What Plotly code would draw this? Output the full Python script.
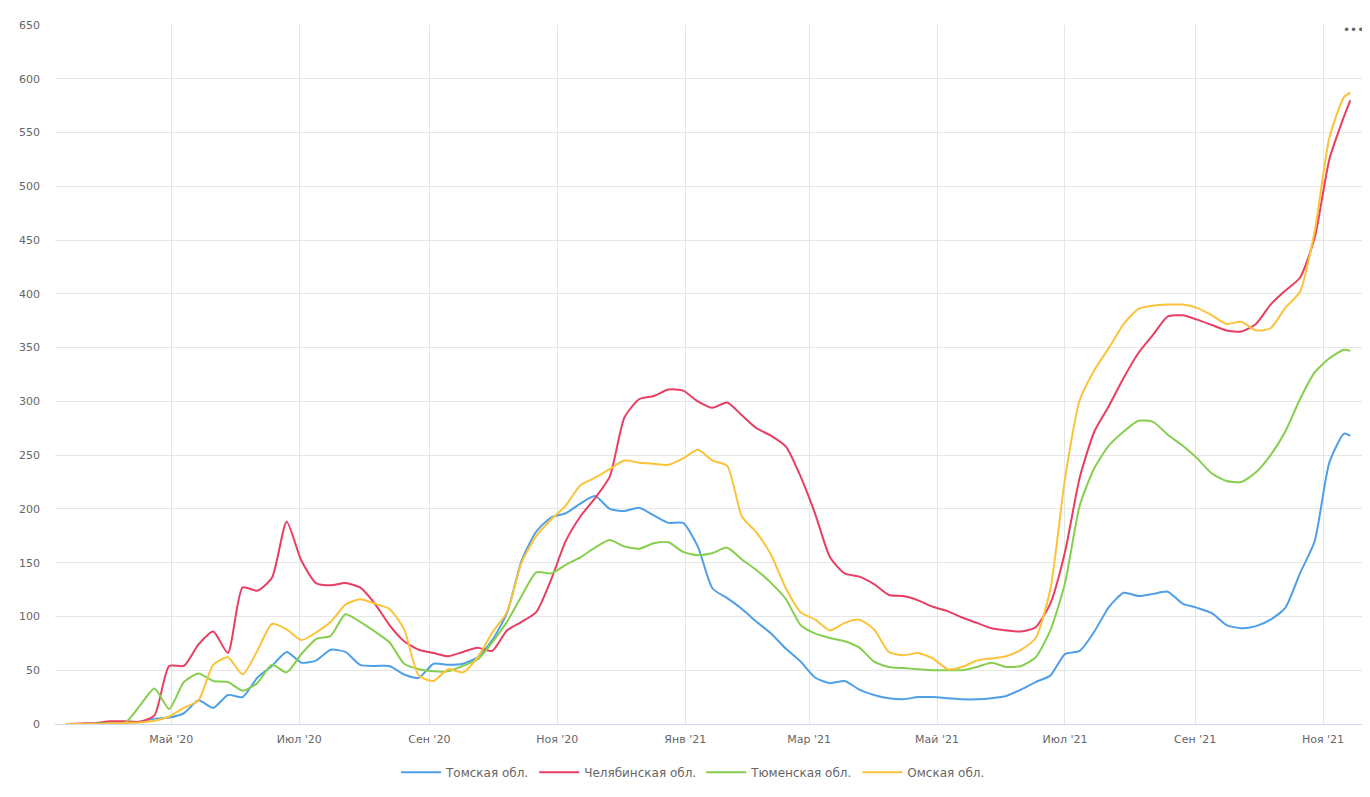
import pandas as pd
import plotly.graph_objects as go

# weekly dates from 2020-03-12, plus the last reported day
dates = list(pd.date_range("2020-03-12", "2021-11-11", freq="7D").strftime("%Y-%m-%d")) + ["2021-11-14"]

tomsk = [0, 0, 0, 0.5, 1, 2, 5, 6, 10, 22, 15, 27, 25, 43, 54, 67, 57, 59, 69, 67, 55, 54, 54, 46, 43, 56,
         55, 56, 62, 78, 103, 152, 179, 192, 196, 205, 212, 200, 198, 201, 194, 187, 187, 165, 126, 117, 107,
         95, 84, 70, 58, 43, 38, 40, 32, 27, 24,
         23, 25, 25, 24, 23, 23, 24, 26, 32, 39, 45, 65, 68, 86, 109, 122, 119, 121, 123, 112, 108, 103, 92,
         89, 91, 97, 108, 140, 170, 243, 270, 268]

chelyabinsk = [0, 0.5, 1, 2.5, 2.5, 2, 8, 54, 54, 74, 86, 66, 127, 124, 136, 188, 152, 131, 129, 131, 127,
               112, 92, 77, 69, 66, 63, 67, 71, 68, 87, 95, 104, 134, 170, 193, 210, 230, 285, 302, 305, 311,
               310, 300, 294, 299, 287, 275, 268, 258, 230, 195, 155, 140, 137, 130, 120,
               119, 115, 109, 105, 99, 94, 89, 87, 86, 90, 112, 160, 229, 272, 296, 322, 345, 362, 379, 380,
               376, 371, 366, 365, 372, 390, 403, 415, 452, 525, 565, 580]

tyumen = [0, 0, 0.5, 0.5, 1, 17, 33, 14, 39, 47, 40, 39, 31, 38, 55, 48, 65, 79, 82, 102, 95, 86, 76, 56,
          51, 49, 49, 54, 60, 76, 95, 119, 141, 140, 148, 155, 164, 171, 165, 163, 168, 169, 160, 157, 159,
          164, 153, 143, 131, 116, 92, 84, 80, 77, 71, 58, 53,
          52, 51, 50, 50, 50, 53, 57, 53, 54, 62, 87, 131, 203, 238, 259, 272, 282, 281, 269, 259, 247, 233,
          226, 225, 234, 250, 272, 302, 327, 340, 348, 347]

omsk = [0, 0, 0, 0.5, 1, 1.5, 3, 7, 15, 22, 55, 62, 46, 68, 93, 88, 78, 85, 95, 111, 116, 112, 107, 88, 45,
        40, 51, 48, 62, 85, 104, 150, 175, 190, 203, 222, 229, 237, 245, 243, 242, 241, 247, 255, 245, 240,
        193, 178, 157, 126, 104, 97, 87, 94, 97, 88, 67,
        64, 66, 61, 51, 53, 59, 61, 63, 69, 80, 125, 228, 301, 329, 350, 372, 386, 389, 390, 390, 387, 380,
        372, 374, 366, 368, 387, 402, 458, 545, 583, 587]

series_names = ["Томская обл.", "Челябинская обл.", "Тюменская обл.", "Омская обл."]
series_values = [tomsk, chelyabinsk, tyumen, omsk]
colors = ["#4e9fe5", "#e83e63", "#86cf4e", "#fbc33a"]

tick_dates = ["2020-05-01", "2020-07-01", "2020-09-01", "2020-11-01", "2021-01-01",
              "2021-03-01", "2021-05-01", "2021-07-01", "2021-09-01", "2021-11-01"]
tick_labels = ["Май '20", "Июл '20", "Сен '20", "Ноя '20", "Янв '21",
               "Мар '21", "Май '21", "Июл '21", "Сен '21", "Ноя '21"]

fig = go.Figure()
for name, vals, col in zip(series_names, series_values, colors):
    fig.add_trace(go.Scatter(
        x=dates, y=vals, name=name, mode="lines",
        line=dict(color=col, width=2, shape="spline", smoothing=0.6),
    ))

font_family = "DejaVu Sans"
fig.update_layout(
    width=1370, height=797,
    margin=dict(l=47, r=13, t=17, b=81),
    paper_bgcolor="white", plot_bgcolor="white",
    font=dict(family=font_family, size=11, color="#666666"),
    showlegend=True,
    legend=dict(orientation="h", x=0.487, xanchor="center", y=-0.069, yanchor="middle",
                font=dict(family=font_family, size=12, color="#666666"),
                itemwidth=40),
    xaxis=dict(
        type="date",
        range=["2020-03-06 14:00", "2021-11-21"],
        tickvals=tick_dates, ticktext=tick_labels,
        showgrid=True, gridcolor="#e6e6e6", gridwidth=1,
        showline=True, linecolor="#ccd6eb", linewidth=1,
        ticks="", ticklabelstandoff=5, tickfont=dict(size=11, color="#666666"),
        zeroline=False,
    ),
    yaxis=dict(
        range=[0, 650], dtick=50, tick0=0,
        showgrid=True, gridcolor="#e6e6e6", gridwidth=1,
        zeroline=False, showline=False,
        ticks="", ticklabelstandoff=14,
        tickfont=dict(size=11, color="#666666"),
    ),
    annotations=[dict(text="•••", x=1.0, xref="paper", xanchor="center", xshift=-12,
                      y=1.0, yref="paper", yanchor="middle", yshift=-5, showarrow=False,
                      font=dict(size=12, color="#666666"))],
)

fig.write_html("out.html", config={"displayModeBar": False})
